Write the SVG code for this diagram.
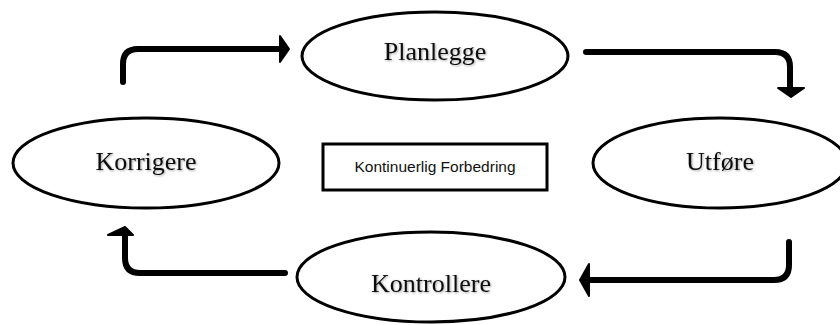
<svg xmlns="http://www.w3.org/2000/svg" width="840" height="325" viewBox="0 0 840 325">
<defs>
<filter id="shadow" x="-10%" y="-20%" width="120%" height="150%">
<feDropShadow dx="1" dy="1" stdDeviation="0.8" flood-color="#000" flood-opacity="0.35"/>
</filter>
</defs>
<style>
.node ellipse{fill:#fff;stroke:#000;stroke-width:3}
.node rect{fill:#fff;stroke:#000;stroke-width:3}
.lbl{font-family:"Liberation Serif","Times New Roman",serif;font-size:26px;fill:#111;text-anchor:middle;filter:url(#shadow)}
.small{font-family:"Liberation Sans",Arial,sans-serif;font-size:15.5px;fill:#111;text-anchor:middle}
.conn path{fill:none;stroke:#000;stroke-width:6;stroke-linecap:round;stroke-linejoin:round}
.conn polygon{fill:#000;stroke:#000;stroke-width:2;stroke-linejoin:round}
</style>
<rect width="840" height="325" fill="#fff"/>
<g id="connectors" class="conn">
<path d="M123,82 V64 Q123,49 138,49 H281"/>
<polygon points="280,36 289,49 280,62"/>
<path d="M586,52 H775 Q790,52 790,67 V88"/>
<polygon points="778,88 804,88 791,97"/>
<path d="M789,242 V265 Q789,280 774,280 H590"/>
<polygon points="589,264 580,280 589,296"/>
<path d="M285,273 H140 Q125,273 125,258 V236"/>
<polygon points="108,235 125,227 133,235"/>
</g>
<g id="planlegge" class="node">
<ellipse cx="435" cy="56" rx="133" ry="44"/>
<text class="lbl" x="435" y="60">Planlegge</text>
</g>
<g id="utfore" class="node">
<ellipse cx="720" cy="163" rx="127" ry="45"/>
<text class="lbl" x="720" y="170">Utføre</text>
</g>
<g id="kontrollere" class="node">
<ellipse cx="431" cy="277" rx="134" ry="45"/>
<text class="lbl" x="431" y="292">Kontrollere</text>
</g>
<g id="korrigere" class="node">
<ellipse cx="146" cy="163" rx="133" ry="45"/>
<text class="lbl" x="146" y="170">Korrigere</text>
</g>
<g id="center" class="node">
<rect x="323" y="144" width="224" height="46"/>
<text class="small" x="435" y="172">Kontinuerlig Forbedring</text>
</g>
</svg>
